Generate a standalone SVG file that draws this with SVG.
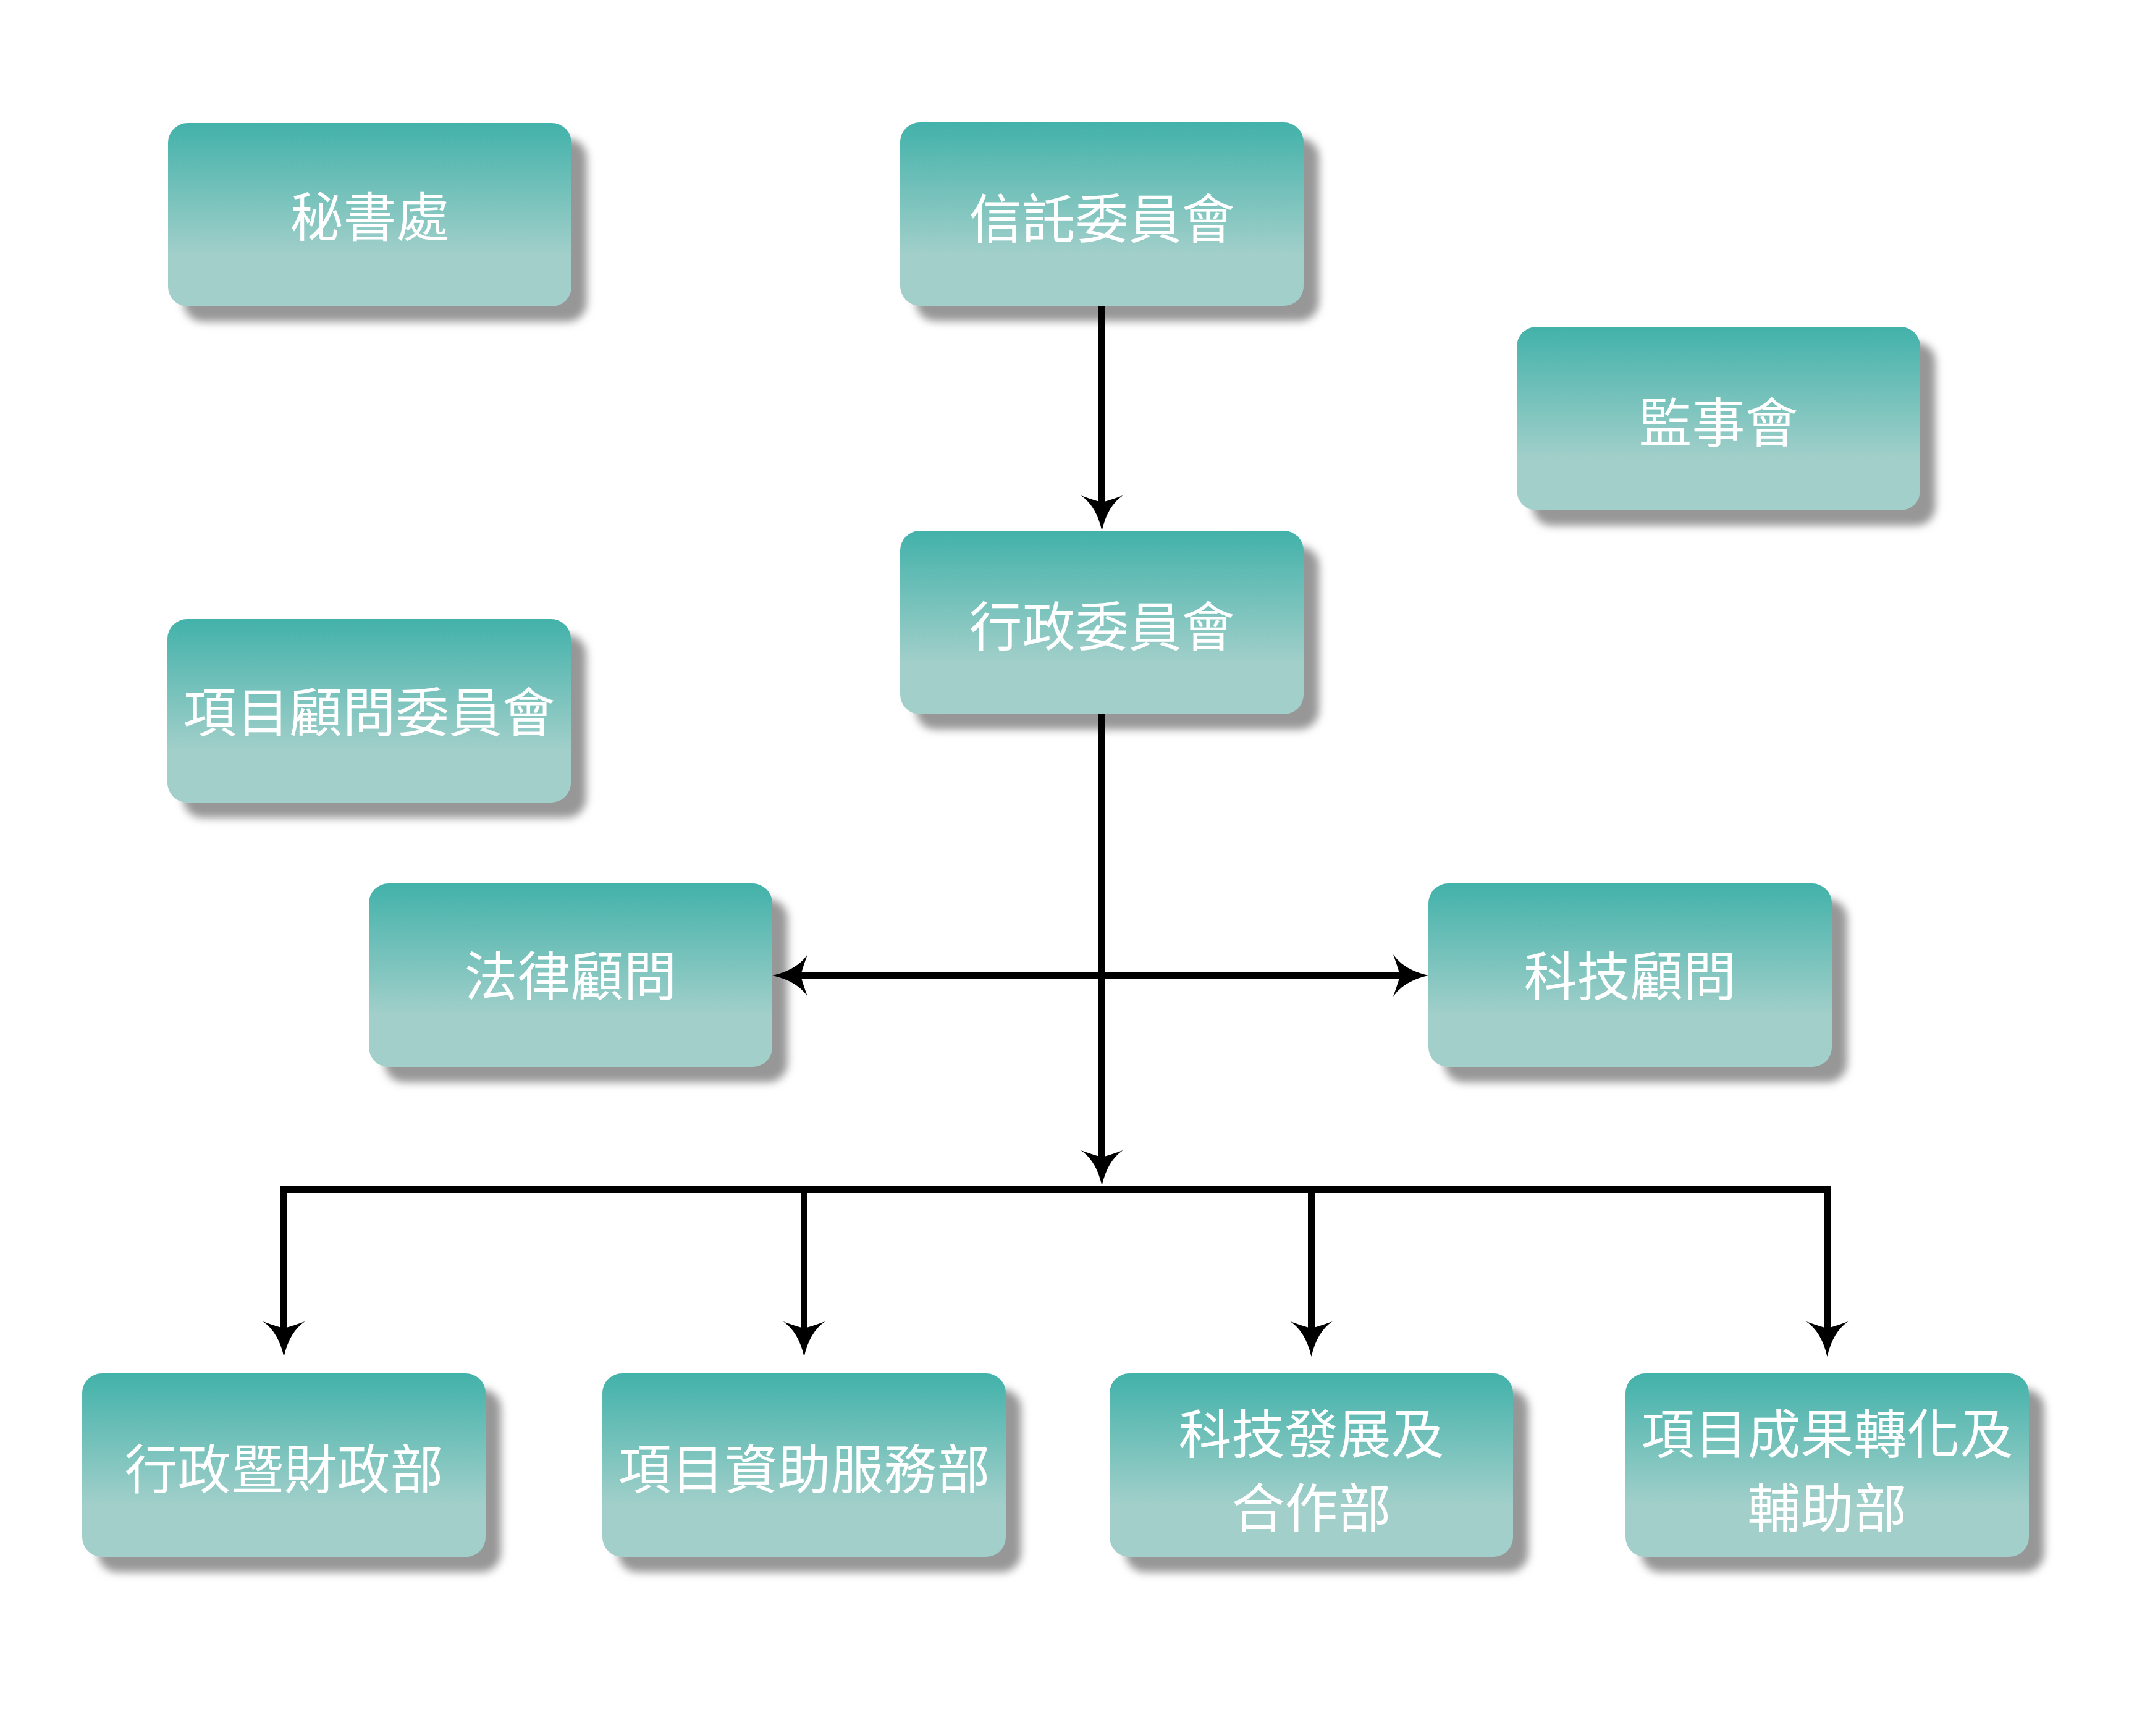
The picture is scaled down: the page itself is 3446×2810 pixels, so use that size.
<svg xmlns="http://www.w3.org/2000/svg" width="3446" height="2810" viewBox="0 0 3446 2810">
  <defs>
    <linearGradient id="fillGrad" x1="0" y1="0" x2="0" y2="1">
      <stop offset="0" stop-color="#42B2AA"/>
      <stop offset="0.72" stop-color="#A2CFCA"/>
      <stop offset="1" stop-color="#A2CFCA"/>
    </linearGradient>
    <filter id="shadow" x="-10%" y="-15%" width="130%" height="150%">
      <feGaussianBlur in="SourceAlpha" stdDeviation="7" result="blur"/>
      <feOffset in="blur" dx="25" dy="25" result="off"/>
      <feFlood flood-color="#979797" result="col"/>
      <feComposite in="col" in2="off" operator="in" result="sh"/>
      <feMerge>
        <feMergeNode in="sh"/>
        <feMergeNode in="SourceGraphic"/>
      </feMerge>
    </filter>
    <marker id="arrow" markerUnits="userSpaceOnUse" viewBox="-60 -36 64 72" markerWidth="64" markerHeight="72" refX="-44" refY="0" orient="auto-start-reverse" overflow="visible">
      <path d="M0,0 Q-40,-9 -57,-34 Q-49,-12 -46,0 Q-49,12 -57,34 Q-40,9 0,0 Z" fill="#000"/>
    </marker>
    <style>
      .box { fill: url(#fillGrad); filter: url(#shadow); }
      .label { font-family: "Noto Sans CJK TC", "Noto Sans CJK SC", sans-serif; font-size: 86px; fill: #FFFFFF; text-anchor: middle; }
      .conn { fill: none; stroke: #000; stroke-width: 11; stroke-linejoin: miter; }
    </style>
  </defs>
  <rect x="0" y="0" width="3446" height="2810" fill="#FFFFFF"/>

  <g id="node-secretariat">
    <rect class="box" x="272" y="199" width="653" height="297" rx="32" ry="32"/>
    <text class="label" x="598.5" y="383">秘書處</text>
  </g>
  <g id="node-trust">
    <rect class="box" x="1457" y="198" width="653" height="297" rx="32" ry="32"/>
    <text class="label" x="1783.5" y="386">信託委員會</text>
  </g>
  <g id="node-supervisory">
    <rect class="box" x="2455" y="529" width="653" height="297" rx="32" ry="32"/>
    <text class="label" x="2781.5" y="716">監事會</text>
  </g>
  <g id="node-executive">
    <rect class="box" x="1457" y="859" width="653" height="297" rx="32" ry="32"/>
    <text class="label" x="1783.5" y="1046">行政委員會</text>
  </g>
  <g id="node-advisory">
    <rect class="box" x="271" y="1002" width="653" height="297" rx="32" ry="32"/>
    <text class="label" x="597.5" y="1185">項目顧問委員會</text>
  </g>
  <g id="node-legal">
    <rect class="box" x="597" y="1430" width="653" height="297" rx="32" ry="32"/>
    <text class="label" x="923.5" y="1612">法律顧問</text>
  </g>
  <g id="node-tech">
    <rect class="box" x="2312" y="1430" width="653" height="297" rx="32" ry="32"/>
    <text class="label" x="2638.5" y="1612">科技顧問</text>
  </g>
  <g id="node-admin-finance">
    <rect class="box" x="133" y="2223" width="653" height="297" rx="32" ry="32"/>
    <text class="label" x="459.5" y="2410">行政暨財政部</text>
  </g>
  <g id="node-funding">
    <rect class="box" x="975" y="2223" width="653" height="297" rx="32" ry="32"/>
    <text class="label" x="1301.5" y="2410">項目資助服務部</text>
  </g>
  <g id="node-tech-dev">
    <rect class="box" x="1796" y="2223" width="653" height="297" rx="32" ry="32"/>
    <text class="label" x="2122.5" y="2353">科技發展及</text>
    <text class="label" x="2122.5" y="2473">合作部</text>
  </g>
  <g id="node-transfer">
    <rect class="box" x="2631" y="2223" width="653" height="297" rx="32" ry="32"/>
    <text class="label" x="2957.5" y="2353">項目成果轉化及</text>
    <text class="label" x="2957.5" y="2473">輔助部</text>
  </g>

  <g id="connectors">
    <path class="conn" d="M1783.5,495 V815" marker-end="url(#arrow)"/>
    <path class="conn" d="M1783.5,1156 V1875" marker-end="url(#arrow)"/>
    <path class="conn" d="M1294,1579 H2268" marker-start="url(#arrow)" marker-end="url(#arrow)"/>
    <path class="conn" d="M459.5,2152 V1925.5 H2957.5 V2152" marker-start="url(#arrow)" marker-end="url(#arrow)"/>
    <path class="conn" d="M1301.5,1925.5 V2152" marker-end="url(#arrow)"/>
    <path class="conn" d="M2122.5,1925.5 V2152" marker-end="url(#arrow)"/>
  </g>
</svg>
